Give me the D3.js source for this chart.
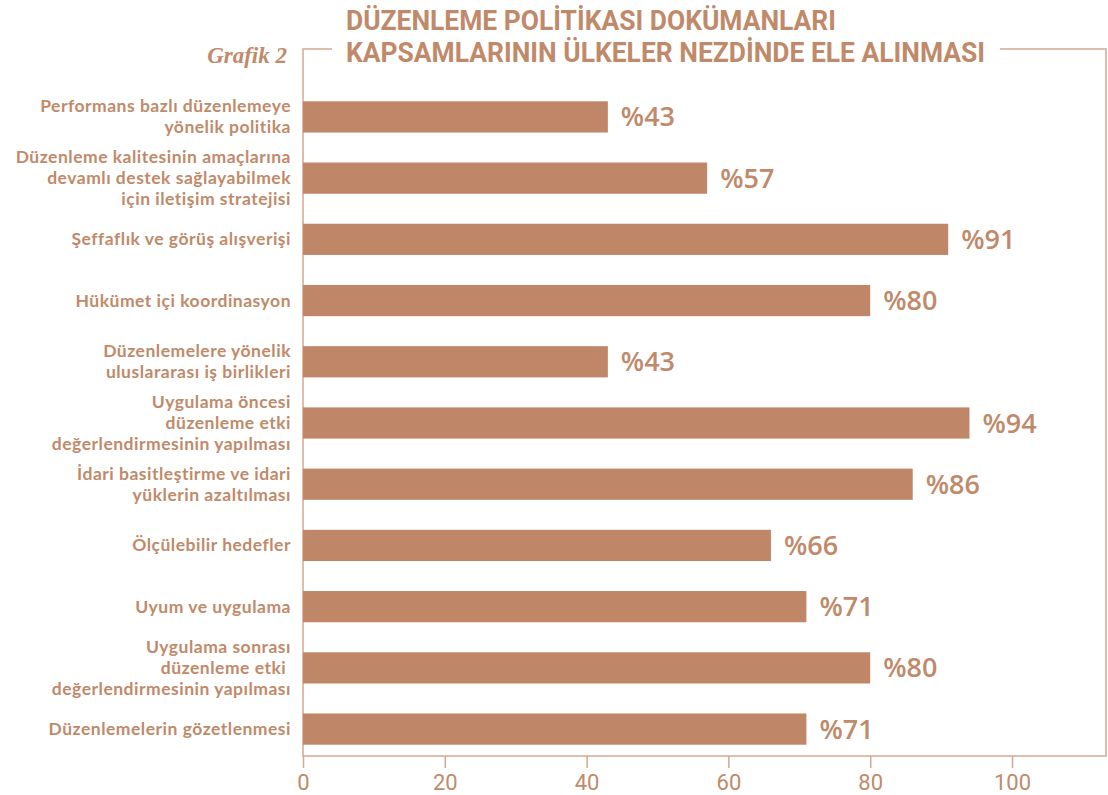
<!DOCTYPE html>
<html>
<head>
<meta charset="utf-8">
<script src="https://cdn.jsdelivr.net/npm/d3@7"></script>
<style>
  body { margin: 0; background: #fff; }
</style>
</head>
<body>
<script>
// Data
const categories = [
  ["Performans bazlı düzenlemeye", "yönelik politika"],
  ["Düzenleme kalitesinin amaçlarına", "devamlı destek sağlayabilmek", "için iletişim stratejisi"],
  ["Şeffaflık ve görüş alışverişi"],
  ["Hükümet içi koordinasyon"],
  ["Düzenlemelere yönelik", "uluslararası iş birlikleri"],
  ["Uygulama öncesi", "düzenleme etki", "değerlendirmesinin yapılması"],
  ["İdari basitleştirme ve idari", "yüklerin azaltılması"],
  ["Ölçülebilir hedefler"],
  ["Uyum ve uygulama"],
  ["Uygulama sonrası", "düzenleme etki ", "değerlendirmesinin yapılması"],
  ["Düzenlemelerin gözetlenmesi"]
];
const values = [43, 57, 91, 80, 43, 94, 86, 66, 71, 80, 71];
const xTicks = [0, 20, 40, 60, 80, 100];
const titleLines = ["DÜZENLEME POLİTİKASI DOKÜMANLARI", "KAPSAMLARININ ÜLKELER NEZDİNDE ELE ALINMASI"];
const titleWidths = [490, 639];

const width = 1108, height = 795;
const color = "#bf8768";
const textColor = "#c08a6a";
const lineColor = "#d3a890";

const frame = {left: 303, top: 49, right: 1106, bottom: 756};

const svg = d3.select("body").append("svg")
  .attr("width", width).attr("height", height);

const x = d3.scaleLinear().domain([0, 100]).range([303, 1012]);
const y = d3.scaleBand().domain(d3.range(values.length))
  .range([86, 760]).paddingInner(0.49).paddingOuter(0.25);

// frame with gap for the title
svg.append("path")
  .attr("d", `M332,${frame.top}H${frame.left}V${frame.bottom}H${frame.right}V${frame.top}H1000`)
  .attr("fill", "none").attr("stroke", lineColor).attr("stroke-width", 1.5);

// title
svg.append("g").selectAll("text").data(titleLines).join("text")
  .attr("x", 346).attr("y", (d, i) => 30 + i * 32)
  .attr("textLength", (d, i) => titleWidths[i])
  .attr("lengthAdjust", "spacingAndGlyphs")
  .attr("fill", textColor)
  .style("font-family", "Roboto, sans-serif")
  .style("font-weight", "bold").style("font-size", "27px")
  .text(d => d);

svg.append("text")
  .attr("x", 287).attr("y", 63).attr("text-anchor", "end")
  .attr("fill", textColor)
  .style("font-family", "'Liberation Serif', serif")
  .style("font-style", "italic").style("font-weight", "bold").style("font-size", "23px")
  .text("Grafik 2");

// bars
svg.append("g").selectAll("rect").data(values).join("rect")
  .attr("x", x(0)).attr("y", (d, i) => y(i))
  .attr("width", d => x(d) - x(0)).attr("height", y.bandwidth())
  .attr("fill", color);

// value labels
svg.append("g").selectAll("text").data(values).join("text")
  .attr("x", d => x(d) + 13).attr("y", (d, i) => y(i) + y.bandwidth() / 2 + 9.5)
  .attr("fill", textColor)
  .style("font-family", "'Open Sans', sans-serif").style("font-weight", "600").style("font-size", "27px")
  .text(d => "%" + d);

// category labels
const cat = svg.append("g").selectAll("text").data(categories).join("text")
  .attr("text-anchor", "end")
  .attr("fill", textColor)
  .style("font-family", "Lato, sans-serif").style("font-weight", "bold")
  .style("font-size", "17.5px").style("letter-spacing", "0.5px");
cat.each(function(lines, i) {
  const cy = y(i) + y.bandwidth() / 2;
  const lh = 21;
  const y0 = cy - (lines.length - 1) * lh / 2 + 6;
  d3.select(this).selectAll("tspan").data(lines).join("tspan")
    .attr("x", 291).attr("y", (d, j) => y0 + j * lh)
    .text(d => d);
});

// x axis
const axis = svg.append("g").attr("transform", `translate(0,${frame.bottom})`)
  .call(d3.axisBottom(x).tickValues(xTicks).tickSize(12).tickPadding(6));
axis.select(".domain").remove();
axis.selectAll(".tick line").attr("stroke", lineColor).attr("stroke-width", 1.5);
axis.selectAll(".tick text")
  .attr("fill", textColor)
  .style("font-family", "Roboto, sans-serif")
  .style("font-size", "22px");
</script>
</body>
</html>
